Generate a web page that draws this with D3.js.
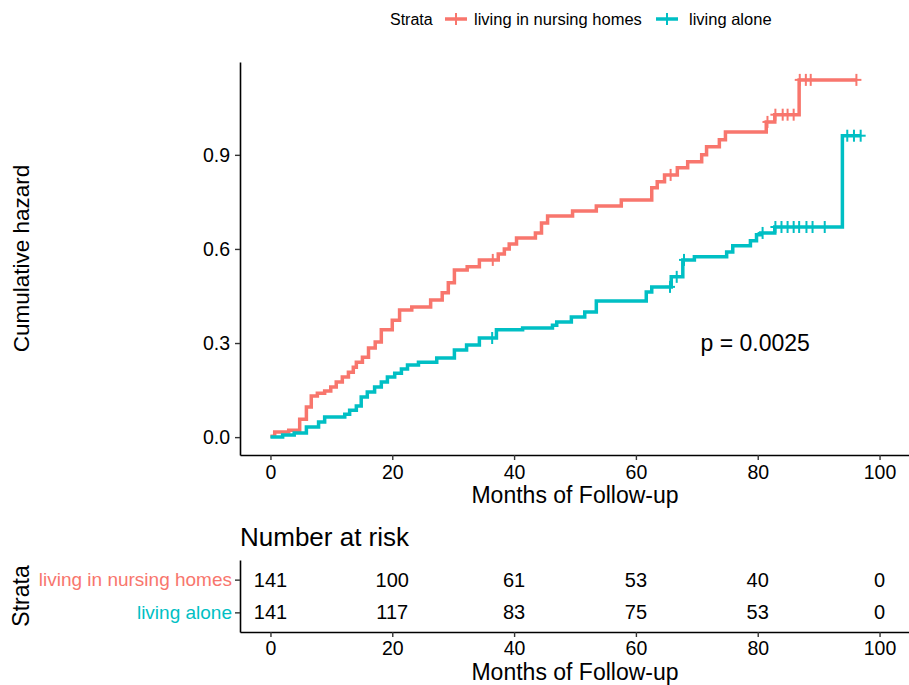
<!DOCTYPE html>
<html><head><meta charset="utf-8">
<script src="https://cdn.jsdelivr.net/npm/d3@7"></script>
<style>
body{margin:0;background:#fff;}
text{font-family:"Liberation Sans",Arial,Helvetica,sans-serif;}
</style></head>
<body><svg id="c" width="909" height="685"></svg>
<script>
const strata = ["living in nursing homes", "living alone"];
const colors = ["#F8766D", "#00BFC4"];

// living in nursing homes: step times (months) and cumulative hazard after step
const nhTime = [0, 0.7, 3.0, 4.8, 5.9, 6.7, 7.7, 8.9, 9.9, 10.8, 11.8, 12.8, 13.6, 14.1, 15.1, 16.1, 17.2, 18.2, 20.0, 21.2, 23.2, 26.3, 28.2, 29.2, 30.2, 32.3, 34.3, 37.4, 38.4, 39.2, 40.4, 43.5, 44.5, 45.5, 49.6, 53.5, 57.6, 62.6, 63.5, 64.7, 66.8, 68.5, 70.8, 71.6, 73.7, 74.7, 81.4, 82.8, 86.8];
const nhHaz  = [0.003, 0.016, 0.022, 0.057, 0.096, 0.131, 0.140, 0.147, 0.160, 0.176, 0.192, 0.207, 0.223, 0.239, 0.255, 0.284, 0.303, 0.342, 0.373, 0.405, 0.415, 0.437, 0.460, 0.492, 0.533, 0.543, 0.565, 0.584, 0.600, 0.616, 0.635, 0.651, 0.683, 0.705, 0.721, 0.737, 0.756, 0.795, 0.814, 0.836, 0.859, 0.878, 0.900, 0.926, 0.948, 0.973, 1.005, 1.028, 1.139];
const nhCensor = [36.5, 65.7, 81.6, 82.9, 84.1, 84.9, 85.9, 86.9, 87.9, 88.7, 96.2];

// living alone
const laTime = [0, 2.0, 3.9, 5.9, 7.9, 8.9, 12.2, 13.0, 14.1, 14.9, 15.9, 17.1, 18.2, 19.2, 20.4, 21.5, 22.5, 24.3, 27.3, 30.2, 32.2, 34.3, 37.1, 41.4, 46.3, 47.0, 49.4, 51.6, 53.5, 61.7, 62.6, 65.8, 67.7, 69.6, 74.9, 75.9, 78.8, 79.8, 80.5, 82.8, 93.9];
const laHaz  = [0.0, 0.007, 0.013, 0.032, 0.048, 0.064, 0.073, 0.086, 0.099, 0.128, 0.144, 0.160, 0.176, 0.192, 0.204, 0.217, 0.230, 0.239, 0.252, 0.278, 0.294, 0.316, 0.342, 0.348, 0.357, 0.367, 0.383, 0.399, 0.434, 0.463, 0.479, 0.511, 0.565, 0.575, 0.590, 0.610, 0.626, 0.645, 0.651, 0.670, 0.961];
const laCensor = [36.4, 65.6, 66.7, 67.9, 80.8, 82.9, 83.9, 84.9, 85.9, 86.8, 88.0, 89.0, 91.0, 94.7, 95.8, 96.9];

const riskTimes = [0, 20, 40, 60, 80, 100];
const riskNH = [141, 100, 61, 53, 40, 0];
const riskLA = [141, 117, 83, 75, 53, 0];
const xTicks = [0, 20, 40, 60, 80, 100];
const yTicks = [0.0, 0.3, 0.6, 0.9];
const pLabel = "p = 0.0025";

const svg = d3.select("#c");
const L = 240, R = 910, T = 62, B = 455;
const x = d3.scaleLinear().domain([-5, 105]).range([L, R]);
const y = d3.scaleLinear().domain([-0.057, 1.196]).range([B, T]);

const fs = 19.5;
function styleAxis(g, size) {
  g.select(".domain").attr("stroke", "#000").attr("stroke-width", 1.6);
  g.selectAll(".tick line").attr("stroke", "#333").attr("stroke-width", 1.4);
  g.selectAll(".tick text").attr("fill", "#000").attr("font-size", size || fs).attr("font-family", "Liberation Sans, Arial");
}
const gx = svg.append("g").attr("transform", `translate(0,${B})`)
  .call(d3.axisBottom(x).tickValues(xTicks).tickSize(5).tickPadding(5).tickSizeOuter(0));
const gy = svg.append("g").attr("transform", `translate(${L},0)`)
  .call(d3.axisLeft(y).tickValues(yTicks).tickFormat(d3.format(".1f")).tickSize(5).tickPadding(5).tickSizeOuter(0));
styleAxis(gx); styleAxis(gy);

svg.append("text").attr("x", (L + R) / 2).attr("y", 503).attr("text-anchor", "middle")
  .attr("font-size", 23).text("Months of Follow-up");
svg.append("text").attr("transform", `translate(29,${(T + B) / 2}) rotate(-90)`).attr("text-anchor", "middle")
  .attr("font-size", 22.5).text("Cumulative hazard");

// curves
const series = [
  {t: nhTime, h: nhHaz, c: nhCensor, col: colors[0]},
  {t: laTime, h: laHaz, c: laCensor, col: colors[1]}
];
const line = d3.line().x(d => x(d[0])).y(d => y(d[1])).curve(d3.curveStepAfter);
const bis = d3.bisector(d => d).right;
series.forEach(s => {
  const pts = s.t.map((t, i) => [t, s.h[i]]);
  const endT = d3.max(s.c);
  pts.push([endT, s.h[s.h.length - 1]]);
  svg.append("path").attr("d", line(pts)).attr("fill", "none").attr("stroke", s.col)
    .attr("stroke-width", 3.5).attr("stroke-linejoin", "miter").attr("stroke-linecap", "butt");
  s.c.forEach(ct => {
    const i = Math.max(0, bis(s.t, ct) - 1);
    const cx = x(ct), cy = y(s.h[i]);
    const g = svg.append("g").attr("stroke", s.col).attr("stroke-width", 2);
    g.append("line").attr("x1", cx - 5).attr("x2", cx + 5).attr("y1", cy).attr("y2", cy);
    g.append("line").attr("x1", cx).attr("x2", cx).attr("y1", cy - 6).attr("y2", cy + 6);
  });
});

svg.append("text").attr("x", x(70.6)).attr("y", y(0.3)).attr("dy", "0.35em")
  .attr("font-size", 23).text(pLabel);

// legend
const ly = 19;
svg.append("text").attr("x", 390).attr("y", ly).attr("dy", "0.35em").attr("font-size", 16).text("Strata");
const legX = [[445, 474], [656, 689]];
strata.forEach((s, i) => {
  const [kx, tx] = legX[i];
  const g = svg.append("g").attr("stroke", colors[i]);
  g.append("line").attr("x1", kx).attr("x2", kx + 22).attr("y1", ly).attr("y2", ly).attr("stroke-width", 3.5);
  g.append("line").attr("x1", kx + 11).attr("x2", kx + 11).attr("y1", ly - 6).attr("y2", ly + 6).attr("stroke-width", 2);
  svg.append("text").attr("x", tx).attr("y", ly).attr("dy", "0.35em").attr("font-size", 16.5).text(s);
});

// risk table
svg.append("text").attr("x", 240).attr("y", 546).attr("font-size", 26).text("Number at risk");
const TT = 560, TB = 632;
const yr = d3.scalePoint().domain(strata).range([TT, TB]).padding(0.6);
const gx2 = svg.append("g").attr("transform", `translate(0,${TB})`)
  .call(d3.axisBottom(x).tickValues(xTicks).tickSize(5).tickPadding(4).tickSizeOuter(0));
const gy2 = svg.append("g").attr("transform", `translate(${L},0)`)
  .call(d3.axisLeft(yr).tickSize(5).tickPadding(3).tickSizeOuter(0));
styleAxis(gx2); styleAxis(gy2, 19);
gy2.selectAll(".tick text").attr("fill", d => colors[strata.indexOf(d)]);
svg.append("text").attr("x", (L + R) / 2).attr("y", 680).attr("text-anchor", "middle")
  .attr("font-size", 23).text("Months of Follow-up");
svg.append("text").attr("transform", `translate(29,${(TT + TB) / 2}) rotate(-90)`).attr("text-anchor", "middle")
  .attr("font-size", 23).text("Strata");
[[strata[0], riskNH], [strata[1], riskLA]].forEach(([s, vals]) => {
  svg.append("g").selectAll("text").data(vals).join("text")
    .attr("x", (d, i) => x(riskTimes[i])).attr("y", yr(s)).attr("dy", "0.35em")
    .attr("text-anchor", "middle").attr("font-size", 20).text(d => d);
});
</script></body></html>
